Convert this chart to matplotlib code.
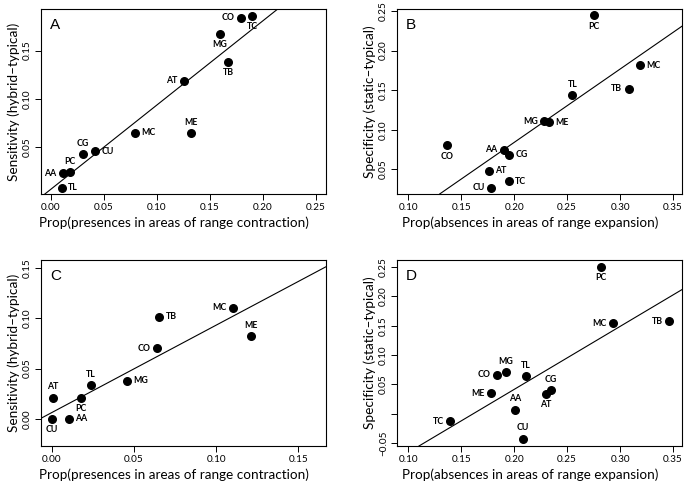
import matplotlib
matplotlib.use("Agg")
import matplotlib.pyplot as plt
import numpy as np

plt.rcParams['font.family'] = ['Lato', 'DejaVu Sans']

# ---------------- data ----------------
codes_A = ["CO", "TC", "MG", "TB", "AT", "ME", "MC", "CU", "CG", "PC", "AA", "TL"]
x_A = [0.179, 0.190, 0.159, 0.167, 0.125, 0.132, 0.079, 0.042, 0.030, 0.018, 0.011, 0.010]
y_A = [0.184, 0.186, 0.167, 0.138, 0.119, 0.065, 0.065, 0.046, 0.043, 0.024, 0.023, 0.008]
pos_A = [2, 1, 1, 1, 2, 3, 4, 4, 3, 3, 2, 4]
fit_A = (0.0067, 0.871)

codes_B = ["PC", "MC", "TB", "TL", "MG", "ME", "CO", "AA", "CG", "AT", "TC", "CU"]
x_B = [0.275, 0.319, 0.308, 0.255, 0.228, 0.233, 0.137, 0.190, 0.195, 0.176, 0.195, 0.178]
y_B = [0.2445, 0.1815, 0.1517, 0.1437, 0.1105, 0.1097, 0.0802, 0.0747, 0.0684, 0.0479, 0.0348, 0.0268]
pos_B = [1, 4, 2, 3, 2, 4, 1, 2, 4, 4, 4, 2]
fit_B = (-0.1012, 0.926)

codes_C = ["MC", "TB", "ME", "CO", "MG", "TL", "AT", "PC", "CU", "AA"]
x_C = [0.110, 0.0655, 0.121, 0.0638, 0.046, 0.024, 0.0006, 0.0178, 0.000, 0.0105]
y_C = [0.1104, 0.1011, 0.082, 0.0701, 0.038, 0.0337, 0.0212, 0.0212, 0.000, 0.000]
pos_C = [2, 4, 3, 2, 4, 3, 3, 1, 1, 4]
fit_C = (0.0063, 0.867)

codes_D = ["PC", "MC", "TB", "MG", "CO", "TL", "ME", "AT", "CG", "AA", "TC", "CU"]
x_D = [0.2818, 0.2934, 0.3459, 0.1918, 0.1836, 0.2107, 0.178, 0.2299, 0.2349, 0.2006, 0.1393, 0.2079]
y_D = [0.250, 0.1545, 0.1574, 0.0705, 0.0665, 0.0642, 0.0347, 0.0335, 0.0403, 0.0068, -0.0125, -0.0426]
pos_D = [1, 2, 2, 3, 2, 3, 2, 1, 3, 3, 2, 3]
fit_D = (-0.1732, 1.073)

xlab_contr = "Prop(presences in areas of range contraction)"
xlab_exp = "Prop(absences in areas of range expansion)"
ylab_sens = "Sensitivity (hybrid\u2013typical)"
ylab_spec = "Specificity (static\u2013typical)"

W, H = 686, 487
fig = plt.figure(figsize=(W / 100, H / 100), dpi=100)


def mkax(l, r, t, b):
    return fig.add_axes([l / W, 1 - b / H, (r - l) / W, (b - t) / H])


panels = [
    dict(ax=mkax(41, 326, 9, 194), letter="A", codes=codes_A, x=x_A, y=y_A, pos=pos_A, fit=fit_A,
         xlim=(-0.0094, 0.2594), ylim=(0.0017, 0.193),
         xt=[0, 0.05, 0.10, 0.15, 0.20, 0.25], yt=[0.05, 0.10, 0.15], ytl=None,
         xl=xlab_contr, yl=ylab_sens),
    dict(ax=mkax(397, 682, 9, 194), letter="B", codes=codes_B, x=x_B, y=y_B, pos=pos_B, fit=fit_B,
         xlim=(0.0893, 0.3585), ylim=(0.0188, 0.2525),
         xt=[0.10, 0.15, 0.20, 0.25, 0.30, 0.35], yt=[0.05, 0.10, 0.15, 0.20, 0.25], ytl=None,
         xl=xlab_exp, yl=ylab_spec),
    dict(ax=mkax(41, 326, 260, 446), letter="C", codes=codes_C, x=x_C, y=y_C, pos=pos_C, fit=fit_C,
         xlim=(-0.0065, 0.1668), ylim=(-0.0268, 0.1576),
         xt=[0, 0.05, 0.10, 0.15], yt=[0.0, 0.05, 0.10, 0.15], ytl=None,
         xl=xlab_contr, yl=ylab_sens),
    dict(ax=mkax(397, 682, 260, 446), letter="D", codes=codes_D, x=x_D, y=y_D, pos=pos_D, fit=fit_D,
         xlim=(0.0893, 0.3585), ylim=(-0.0551, 0.2619),
         xt=[0.10, 0.15, 0.20, 0.25, 0.30, 0.35], yt=[-0.05, 0.0, 0.05, 0.10, 0.15, 0.20, 0.25],
         ytl=["\u22120.05", "", "0.05", "0.10", "0.15", "0.20", "0.25"],
         xl=xlab_exp, yl=ylab_spec),
]

off = 4.5
placement = {
    1: dict(xytext=(0, -off), ha="center", va="top"),
    2: dict(xytext=(-off, 0), ha="right", va="center"),
    3: dict(xytext=(0, off), ha="center", va="bottom"),
    4: dict(xytext=(off, 0), ha="left", va="center"),
}

for p in panels:
    ax = p["ax"]
    ax.set_xlim(*p["xlim"])
    ax.set_ylim(*p["ylim"])
    ax.axline((0, p["fit"][0]), slope=p["fit"][1], color="black", lw=0.8)
    ax.scatter(p["x"], p["y"], s=30, color="black", zorder=3)
    for c, xx, yy, ps in zip(p["codes"], p["x"], p["y"], p["pos"]):
        pl = placement[ps]
        ax.annotate(c, (xx, yy), textcoords="offset points", xytext=pl["xytext"],
                    ha=pl["ha"], va=pl["va"], fontsize=6.3, fontweight="bold")
    ax.set_xticks(p["xt"])
    ax.set_xticklabels(["%.2f" % v for v in p["xt"]])
    ax.set_yticks(p["yt"])
    if p["ytl"] is None:
        ax.set_yticklabels(["%.2f" % v for v in p["yt"]], rotation=90, va="center")
    else:
        ax.set_yticklabels(p["ytl"], rotation=90, va="center")
    ax.tick_params(direction="out", length=4, width=0.7, labelsize=7.2, pad=2.5)
    ax.set_xlabel(p["xl"], fontsize=9.7, labelpad=3)
    ax.xaxis.label.set_x(0.466)
    ax.set_ylabel(p["yl"], fontsize=9.8, labelpad=2)
    for s in ax.spines.values():
        s.set_linewidth(0.8)
    ax.text(0.032, 0.95, p["letter"], transform=ax.transAxes, fontsize=11,
            family="Liberation Sans", ha="left", va="top")

fig.savefig("out.png", dpi=100)
